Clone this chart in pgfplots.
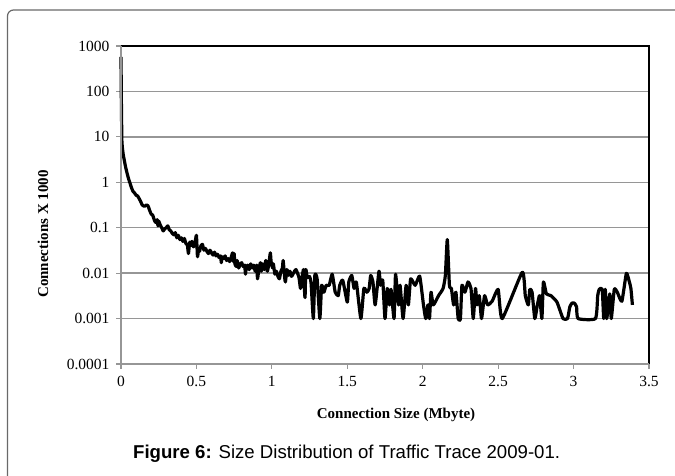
\documentclass[border=0pt]{standalone}
\usepackage{fontspec}
\setmainfont{Liberation Serif}
\newfontfamily\arial{Liberation Sans}
\usepackage{pgfplots}
\pgfplotsset{compat=1.18}
\definecolor{gridc}{RGB}{150,150,150}
\begin{document}
\begin{tikzpicture}[x=1pt,y=1pt]
\useasboundingbox (0,0) rectangle (675,475);
\begin{scope}
\clip (0,0) rectangle (675,475);
\draw[gridc!70!black, line width=1.2pt, rounded corners=6pt] (7.5,-20) -- (7.5,465) -- (700,465);
\end{scope}
\begin{axis}[at={(121pt,111pt)}, anchor=south west, width=528pt, height=318pt, scale only axis,
  xmin=0, xmax=3.5, ymin=1e-4, ymax=1000, ymode=log, clip=false,
  xtick={0,0.5,1,1.5,2,2.5,3,3.5}, xticklabels={0,0.5,1,1.5,2,2.5,3,3.5},
  ytick={1e-4,1e-3,0.01,0.1,1,10,100,1000},
  yticklabels={0.0001,0.001,0.01,0.1,1,10,100,1000},
  yminorticks=false, xminorticks=false,
  ymajorgrids, major grid style={gridc, line width=1.5pt},
  axis line style={draw=none},
  tick style={gridc, line width=1.2pt}, major tick length=5pt, tick align=outside,
  xtick pos=bottom, ytick pos=left,
  ticklabel style={font=\fontsize{15.5}{15.5}\selectfont},
  yticklabel style={xshift=-3pt},
  xticklabel style={yshift=-4pt},
  /pgf/number format/assume math mode=true,
]
\addplot[black, line width=3.2pt, smooth, tension=0.3, line join=round] coordinates {
(0,575) (0.003,40) (0.006,8) (0.01,5.5) (0.015,4) (0.02,3.3) (0.03,2.2) (0.04,1.6) (0.05,1.2) (0.06,0.95) (0.07,0.75) (0.08,0.63) (0.09,0.58) (0.10,0.52) (0.11,0.5) (0.12,0.44) (0.13,0.38) (0.14,0.32) (0.15,0.30) (0.16,0.30) (0.17,0.32) (0.18,0.30) (0.19,0.24) (0.2,0.2) (0.21,0.19) (0.22,0.15) (0.23,0.13) (0.24,0.15) (0.245,0.11) (0.25,0.14) (0.26,0.115) (0.27,0.10) (0.28,0.085) (0.29,0.095) (0.30,0.10) (0.31,0.11) (0.32,0.09) (0.33,0.085) (0.34,0.075) (0.35,0.07) (0.36,0.078) (0.37,0.06) (0.38,0.068) (0.39,0.055) (0.40,0.06) (0.41,0.05) (0.42,0.058) (0.43,0.045) (0.44,0.042) (0.447,0.027) (0.455,0.048) (0.46,0.04) (0.47,0.05) (0.48,0.038) (0.49,0.045) (0.50,0.068) (0.507,0.023) (0.515,0.035) (0.52,0.03) (0.53,0.04) (0.54,0.043) (0.55,0.032) (0.56,0.035) (0.57,0.03) (0.58,0.027) (0.59,0.032) (0.60,0.028) (0.61,0.025) (0.62,0.029) (0.63,0.024) (0.64,0.026) (0.65,0.022) (0.66,0.024) (0.665,0.017) (0.67,0.023) (0.68,0.021) (0.69,0.024) (0.70,0.019) (0.71,0.021) (0.72,0.018) (0.73,0.022) (0.74,0.028) (0.745,0.018) (0.75,0.027) (0.755,0.016) (0.765,0.014) (0.77,0.019) (0.78,0.013) (0.79,0.016) (0.80,0.017) (0.81,0.014) (0.82,0.015) (0.825,0.0095) (0.83,0.013) (0.84,0.015) (0.85,0.012) (0.86,0.016) (0.87,0.013) (0.88,0.015) (0.89,0.011) (0.9,0.015) (0.905,0.0075) (0.915,0.013) (0.925,0.017) (0.93,0.011) (0.94,0.016) (0.95,0.012) (0.96,0.019) (0.97,0.011) (0.98,0.016) (0.99,0.028) (0.995,0.018) (1.005,0.013) (1.01,0.016) (1.02,0.0095) (1.03,0.011) (1.04,0.0085) (1.05,0.0075) (1.06,0.011) (1.07,0.013) (1.075,0.019) (1.085,0.008) (1.09,0.0064) (1.1,0.012) (1.11,0.009) (1.12,0.011) (1.13,0.0085) (1.14,0.0095) (1.15,0.011) (1.16,0.012) (1.17,0.010) (1.18,0.008) (1.19,0.0046) (1.2,0.008) (1.21,0.012) (1.215,0.005) (1.22,0.0029) (1.225,0.012) (1.235,0.008) (1.25,0.0084) (1.26,0.006) (1.275,0.001) (1.285,0.0089) (1.3,0.0075) (1.318,0.001)
(1.33,0.0054) (1.345,0.0038) (1.36,0.0054) (1.38,0.0054) (1.4,0.0095) (1.42,0.0038) (1.44,0.0032) (1.45,0.0054) (1.47,0.007) (1.5,0.0023) (1.51,0.0064) (1.53,0.0089) (1.545,0.0046) (1.56,0.0064) (1.59,0.001) (1.61,0.0046) (1.63,0.0038) (1.645,0.0046) (1.655,0.0089) (1.67,0.0064) (1.685,0.002) (1.71,0.011) (1.72,0.0054) (1.735,0.007) (1.75,0.001) (1.765,0.0046) (1.78,0.002) (1.79,0.0044) (1.81,0.001) (1.82,0.0095) (1.84,0.002) (1.85,0.0054) (1.87,0.001) (1.89,0.0054) (1.905,0.002) (1.92,0.0075) (1.95,0.0054) (1.98,0.0086) (2.005,0.002) (2.02,0.001) (2.035,0.002) (2.045,0.001) (2.055,0.0038) (2.07,0.002) (2.105,0.0032) (2.135,0.0046) (2.15,0.0089) (2.163,0.055) (2.177,0.0054) (2.19,0.0046) (2.205,0.002) (2.22,0.0038) (2.235,0.001) (2.25,0.001) (2.26,0.0054) (2.28,0.0038) (2.3,0.0064) (2.32,0.0046) (2.335,0.001) (2.35,0.0046) (2.36,0.002) (2.375,0.0032) (2.39,0.001) (2.41,0.0032) (2.43,0.002) (2.46,0.0024) (2.5,0.0044) (2.527,0.001) (2.66,0.0105) (2.68,0.0032) (2.7,0.002) (2.71,0.0044) (2.725,0.0038) (2.743,0.001) (2.76,0.002) (2.775,0.0032) (2.79,0.001) (2.8,0.0064) (2.82,0.0035) (2.85,0.0032) (2.89,0.0023) (2.93,0.001) (2.96,0.001) (2.975,0.0018) (2.99,0.0022) (3.005,0.0022) (3.02,0.0018) (3.03,0.001) (3.145,0.001) (3.16,0.0032) (3.17,0.0044) (3.19,0.0044) (3.2,0.001) (3.21,0.0044) (3.22,0.001) (3.24,0.0035) (3.25,0.001) (3.27,0.0044) (3.29,0.0038) (3.32,0.0024) (3.35,0.0099) (3.37,0.0064) (3.38,0.0046) (3.39,0.002)
};
\draw[black, line width=1.2pt] (rel axis cs:0,1) -- (rel axis cs:1,1) -- (rel axis cs:1,0);
\draw[gridc, line width=1.5pt] (rel axis cs:0,1) -- (rel axis cs:0,0) -- (rel axis cs:1,0);
\end{axis}
\node[rotate=90, font=\bfseries\fontsize{15}{15}\selectfont] at (43,241) {Connections X 1000};
\node[anchor=base, font=\bfseries\fontsize{15}{15}\selectfont] at (396,57) {Connection Size (Mbyte)};
\node[anchor=base west, inner sep=0pt, font=\arial\fontsize{18.6}{20}\selectfont] at (133,17) {\textbf{Figure 6:} Size Distribution of Traffic Trace 2009-01.};
\end{tikzpicture}
\end{document}
